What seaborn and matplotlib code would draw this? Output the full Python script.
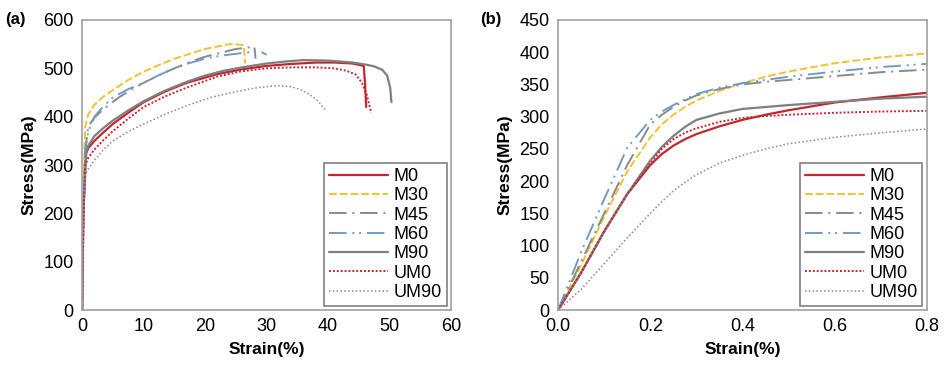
import matplotlib
matplotlib.use('Agg')
import matplotlib.pyplot as plt
import seaborn as sns

# ---- data ----
labels = ['M0', 'M30', 'M45', 'M60', 'M90', 'UM0', 'UM90']

# (a) full curves: strain (%) / stress (MPa)
a_M0_x = [0, 0.2, 0.5, 1, 2, 3.5, 5, 7.5, 10, 13.5, 17, 22, 26, 30, 34, 38, 41, 44, 45.8, 46.0, 46.2]
a_M0_y = [0, 200, 320, 335, 350, 368, 385, 408, 430, 452, 470, 488, 498, 505, 509, 512, 512, 510, 505, 470, 420]
a_M30_x = [0, 0.2, 0.5, 1, 2, 3.5, 5, 7.5, 10, 12.5, 15, 17.5, 20, 22, 24, 25.5, 26.2, 26.4, 26.5]
a_M30_y = [0, 250, 380, 405, 425, 442, 455, 476, 493, 507, 520, 530, 540, 545, 550, 549, 548, 530, 510]
a_M45_x = [0, 0.2, 0.6, 1, 2, 3, 4.5, 6, 8, 10, 12.5, 15, 17.5, 20, 22.5, 25, 27, 28, 28.1, 28.2]
a_M45_y = [0, 220, 340, 380, 398, 410, 426, 440, 456, 470, 486, 500, 513, 524, 532, 540, 543, 545, 535, 520]
a_M60_x = [0, 0.2, 0.5, 1, 2, 3.5, 5, 7.5, 10, 12.5, 15, 17.5, 20, 22.5, 25, 27, 29, 30]
a_M60_y = [0, 220, 330, 370, 400, 422, 440, 457, 470, 486, 500, 511, 520, 526, 530, 533, 535, 528]
a_M90_x = [0, 0.2, 0.7, 1, 2, 3.5, 5, 7.5, 10, 13.5, 17, 20, 23, 26.5, 30, 33, 36, 40, 44, 46, 47.5, 48.8, 49.6, 50.1, 50.3]
a_M90_y = [0, 200, 330, 340, 360, 377, 392, 413, 432, 454, 472, 485, 495, 503, 510, 514, 517, 516, 512, 508, 504, 497, 485, 460, 430]
a_UM0_x = [0, 0.2, 0.5, 1, 2, 3.5, 5, 7.5, 10, 13.5, 17, 22, 26, 30, 34, 38, 41, 43, 44.5, 45.5, 46.3, 47]
a_UM0_y = [0, 180, 300, 315, 332, 352, 370, 396, 420, 442, 460, 483, 494, 500, 502, 502, 500, 495, 487, 470, 445, 408]
a_UM90_x = [0, 0.2, 0.5, 1, 2, 3.5, 5, 7.5, 10, 13.5, 17, 21, 25, 28, 30, 32, 34, 35.5, 37, 38.3, 39.5]
a_UM90_y = [0, 170, 280, 292, 310, 332, 350, 369, 385, 405, 423, 440, 452, 459, 462, 464, 462, 456, 446, 433, 415]

# (b) initial part: strain (%) / stress (MPa)
b_x = [0, 0.05, 0.1, 0.15, 0.2, 0.225, 0.25, 0.275, 0.3, 0.35, 0.4, 0.45, 0.5, 0.6, 0.7, 0.8]
b_M0 = [0, 58, 122, 180, 225, 242, 255, 265, 273, 285, 295, 303, 310, 322, 330, 337]
b_M30 = [0, 70, 145, 215, 268, 288, 303, 315, 325, 340, 352, 362, 370, 383, 392, 398]
b_M45 = [0, 75, 150, 225, 288, 303, 315, 325, 333, 343, 350, 354, 357, 363, 369, 373]
b_M60 = [0, 90, 172, 252, 295, 308, 318, 327, 335, 345, 352, 357, 362, 370, 377, 382]
b_M90 = [0, 58, 122, 180, 232, 253, 270, 284, 295, 305, 312, 315, 318, 323, 328, 331]
b_UM0 = [0, 58, 122, 180, 227, 250, 265, 275, 282, 292, 298, 301, 303, 306, 308, 309]
b_UM90 = [0, 32, 72, 112, 150, 168, 185, 198, 210, 228, 240, 250, 258, 268, 275, 281]

a_data = [(a_M0_x, a_M0_y), (a_M30_x, a_M30_y), (a_M45_x, a_M45_y), (a_M60_x, a_M60_y),
          (a_M90_x, a_M90_y), (a_UM0_x, a_UM0_y), (a_UM90_x, a_UM90_y)]
b_data = [(b_x, b_M0), (b_x, b_M30), (b_x, b_M45), (b_x, b_M60),
          (b_x, b_M90), (b_x, b_UM0), (b_x, b_UM90)]

colors = ['#c3262c', '#f2c230', '#8a8a8a', '#6e9cc6', '#7f7f7f', '#c3262c', '#8a8a8a']
styles = ['-', (0, (4, 1.5)), (0, (9, 3, 1, 3)), (0, (9, 3, 1, 2.5, 1, 3)),
          '-', (0, (1, 1)), (0, (1, 1.5))]
widths = [1.6, 1.4, 1.4, 1.4, 1.6, 1.4, 1.1]

sns.set_style('white')
plt.rcParams['font.family'] = ['Liberation Sans', 'DejaVu Sans']
plt.rcParams['text.color'] = 'black'
plt.rcParams['axes.labelcolor'] = 'black'

fig, (ax1, ax2) = plt.subplots(1, 2, figsize=(9.44, 3.70), dpi=100)
fig.subplots_adjust(left=0.087, right=0.982, top=0.946, bottom=0.162, wspace=0.29)


def draw(ax, data, xlim, xticks, ylim, yticks, fmt, tag):
    for (x, y), lab, c, ls, lw in zip(data, labels, colors, styles, widths):
        sns.lineplot(x=x, y=y, ax=ax, color=c, linestyle=ls, linewidth=lw,
                     label=lab, sort=False, estimator=None)
    ax.set_xlim(xlim)
    ax.set_ylim(ylim)
    ax.set_xticks(xticks)
    ax.set_yticks(yticks)
    ax.set_xticklabels([fmt.format(t) for t in xticks])
    ax.tick_params(labelsize=13, labelcolor='black', length=3, color='#a0a0a0', width=1, pad=3)
    for s in ax.spines.values():
        s.set_color('#a0a0a0')
        s.set_linewidth(1.2)
    ax.set_xlabel('Strain(%)', fontsize=12.5, fontweight='bold', labelpad=5)
    ax.set_ylabel('Stress(MPa)', fontsize=12.5, fontweight='bold', labelpad=5)
    leg = ax.legend(loc='lower right', fontsize=13, handlelength=3.3, handletextpad=0.3,
                    labelspacing=0.13, borderpad=0.25, fancybox=False, framealpha=1,
                    borderaxespad=0.25)
    leg.get_frame().set_edgecolor('#808080')
    leg.get_frame().set_linewidth(1.2)
    ax.text(-0.21, 1.0, tag, transform=ax.transAxes, fontsize=12, fontweight='bold',
            va='center', ha='left')


draw(ax1, a_data, (0, 60), [0, 10, 20, 30, 40, 50, 60], (0, 600),
     [0, 100, 200, 300, 400, 500, 600], '{:g}', '(a)')
draw(ax2, b_data, (0, 0.8), [0, 0.2, 0.4, 0.6, 0.8], (0, 450),
     [0, 50, 100, 150, 200, 250, 300, 350, 400, 450], '{:.1f}', '(b)')

fig.savefig('out.png', dpi=100)
